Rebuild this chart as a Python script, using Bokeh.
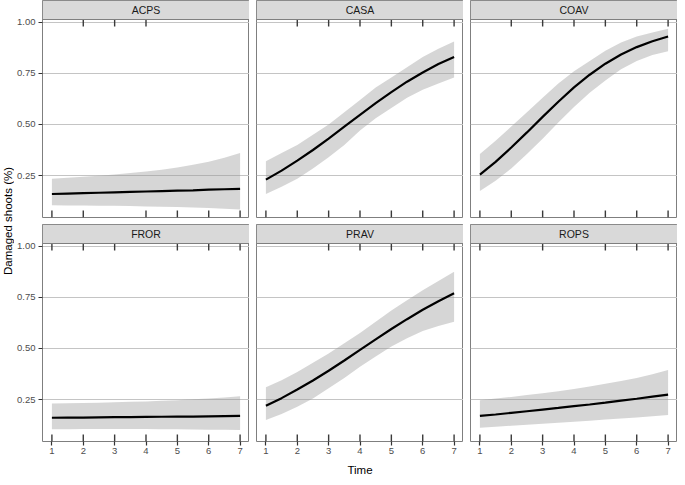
import numpy as np
from bokeh.plotting import figure
from bokeh.layouts import row, column
from bokeh.models import Range1d, FixedTicker, Grid, Label, PrintfTickFormatter
from bokeh.core.properties import value
from bokeh.embed import file_html
from bokeh.resources import INLINE

# ---------------- data ----------------
time = [1.0, 1.5, 2.0, 2.5, 3.0, 3.5, 4.0, 4.5, 5.0, 5.5, 6.0, 6.5, 7.0]
species = ["ACPS", "CASA", "COAV", "FROR", "PRAV", "ROPS"]

acps_fit = [0.160, 0.162, 0.164, 0.166, 0.168, 0.170, 0.172, 0.174, 0.176, 0.178, 0.181, 0.183, 0.185]
acps_hi = [0.235, 0.239, 0.244, 0.249, 0.255, 0.262, 0.270, 0.279, 0.290, 0.303, 0.318, 0.337, 0.360]
acps_lo = [0.105, 0.104, 0.104, 0.103, 0.102, 0.101, 0.099, 0.098, 0.096, 0.094, 0.091, 0.088, 0.084]

casa_fit = [0.230, 0.274, 0.323, 0.375, 0.431, 0.489, 0.547, 0.604, 0.658, 0.709, 0.754, 0.795, 0.830]
casa_hi = [0.320, 0.360, 0.400, 0.450, 0.500, 0.560, 0.620, 0.680, 0.730, 0.780, 0.830, 0.870, 0.905]
casa_lo = [0.160, 0.195, 0.235, 0.285, 0.340, 0.400, 0.470, 0.530, 0.580, 0.630, 0.670, 0.700, 0.730]

coav_fit = [0.255, 0.317, 0.387, 0.461, 0.537, 0.611, 0.681, 0.743, 0.797, 0.842, 0.878, 0.907, 0.930]
coav_hi = [0.355, 0.420, 0.490, 0.560, 0.630, 0.700, 0.760, 0.810, 0.860, 0.900, 0.930, 0.950, 0.968]
coav_lo = [0.175, 0.225, 0.285, 0.355, 0.430, 0.510, 0.585, 0.655, 0.715, 0.770, 0.810, 0.840, 0.858]

fror_fit = [0.161, 0.162, 0.162, 0.163, 0.164, 0.164, 0.165, 0.166, 0.167, 0.167, 0.168, 0.169, 0.170]
fror_hi = [0.231, 0.232, 0.233, 0.235, 0.237, 0.239, 0.241, 0.244, 0.247, 0.251, 0.255, 0.260, 0.266]
fror_lo = [0.105, 0.105, 0.106, 0.106, 0.106, 0.106, 0.106, 0.105, 0.105, 0.104, 0.103, 0.102, 0.101]

prav_fit = [0.220, 0.257, 0.299, 0.343, 0.391, 0.441, 0.493, 0.544, 0.595, 0.643, 0.689, 0.731, 0.770]
prav_hi = [0.310, 0.345, 0.385, 0.430, 0.475, 0.525, 0.575, 0.630, 0.685, 0.735, 0.785, 0.830, 0.875]
prav_lo = [0.150, 0.180, 0.215, 0.255, 0.305, 0.355, 0.410, 0.460, 0.510, 0.550, 0.585, 0.610, 0.630]

rops_fit = [0.170, 0.177, 0.185, 0.193, 0.201, 0.209, 0.218, 0.226, 0.235, 0.245, 0.254, 0.264, 0.274]
rops_hi = [0.247, 0.255, 0.263, 0.272, 0.281, 0.291, 0.302, 0.314, 0.327, 0.341, 0.356, 0.374, 0.395]
rops_lo = [0.112, 0.117, 0.122, 0.127, 0.132, 0.137, 0.142, 0.147, 0.152, 0.157, 0.162, 0.168, 0.175]

# observed times of damaged (1, top rug) and undamaged (0, bottom rug) shoots
acps_rug1 = [2, 3, 4]
acps_rug0 = [1, 2, 4, 5, 6, 7]
casa_rug1 = [2, 3, 4, 5, 6, 7]
casa_rug0 = [1, 2, 3, 4, 5, 6, 7]
coav_rug1 = [2, 3, 4, 5, 6, 7]
coav_rug0 = [1, 2, 3, 4, 5, 6, 7]
fror_rug1 = [1, 2, 3, 5, 6, 7]
fror_rug0 = [1, 2, 3, 4, 5, 6, 7]
prav_rug1 = [3, 4, 5, 6, 7]
prav_rug0 = [1, 2, 3, 4, 5, 6, 7]
rops_rug1 = [1, 3, 5, 6, 7]
rops_rug0 = [1, 2, 3, 4, 5, 6, 7]

x_ticks = [1, 2, 3, 4, 5, 6, 7]
y_ticks = [0.25, 0.50, 0.75, 1.00]

x_label = "Time"
y_label = "Damaged shoots (%)"

# ---------------- styling / layout ----------------
FONT = "Liberation Sans"
XR = (0.7, 7.3)
YR = (0.045, 1.013)
FW = 207
PH = 198
SH = 19
GAP = 7
BOT = 36
LEFT = [26, 7, 7]
BORDER = "#7f7f7f"
GRID = "#c4c4c4"
RUG = 0.035  # rug length as a fraction of the panel height

panels = [
    ("ACPS", acps_fit, acps_lo, acps_hi, acps_rug1, acps_rug0),
    ("CASA", casa_fit, casa_lo, casa_hi, casa_rug1, casa_rug0),
    ("COAV", coav_fit, coav_lo, coav_hi, coav_rug1, coav_rug0),
    ("FROR", fror_fit, fror_lo, fror_hi, fror_rug1, fror_rug0),
    ("PRAV", prav_fit, prav_lo, prav_hi, prav_rug1, prav_rug0),
    ("ROPS", rops_fit, rops_lo, rops_hi, rops_rug1, rops_rug0),
]


def panel(name, fit, lo, hi, rug1, rug0, col, bottom):
    yspan = YR[1] - YR[0]
    ytop = YR[0] + yspan * (PH + SH) / PH
    p = figure(frame_width=FW, frame_height=PH + SH, x_range=Range1d(*XR),
               y_range=Range1d(YR[0], ytop),
               x_axis_location="below" if bottom else None,
               y_axis_location="left" if col == 0 else None,
               toolbar_location=None, output_backend="svg",
               min_border_left=LEFT[col], min_border_right=0, min_border_top=0,
               min_border_bottom=BOT if bottom else GAP,
               outline_line_color=BORDER, background_fill_color="white",
               border_fill_color="white")
    p.extra_y_ranges = {"strip": Range1d(-PH / SH, 1)}
    # grids: horizontal major only
    for g in p.xgrid:
        g.visible = False
    if len(p.ygrid) == 0:
        p.add_layout(Grid(dimension=1, ticker=FixedTicker(ticks=y_ticks)))
    for g in p.ygrid:
        g.ticker = FixedTicker(ticks=y_ticks)
        g.grid_line_color = GRID
        g.grid_line_width = 1
        g.minor_grid_line_color = None
    # axes
    if col == 0:
        ax = p.yaxis[0]
        ax.ticker = FixedTicker(ticks=y_ticks)
        ax.formatter = PrintfTickFormatter(format="%.2f")
        ax.major_label_standoff = 3
    if bottom:
        ax = p.xaxis[0]
        ax.ticker = FixedTicker(ticks=x_ticks)
        ax.major_label_standoff = 2
        if col == 1:
            ax.axis_label = x_label
            ax.axis_label_text_font = FONT
            ax.axis_label_text_font_size = "11.5px"
            ax.axis_label_text_font_style = "normal"
            ax.axis_label_text_color = "black"
            ax.axis_label_standoff = 7
    for ax in list(p.xaxis) + list(p.yaxis):
        ax.major_label_text_font = FONT
        ax.major_label_text_font_size = "9.5px"
        ax.major_label_text_color = "#4d4d4d"
        ax.major_tick_line_color = "#333333"
        ax.major_tick_line_width = 1.2
        ax.major_tick_out = 4
        ax.major_tick_in = 0
        ax.minor_tick_line_color = None
        ax.axis_line_color = None
    # ribbon + fitted line
    p.varea(x=time, y1=lo, y2=hi, fill_color="#999999", fill_alpha=0.4)
    p.line(x=time, y=fit, line_color="black", line_width=2.2)
    # rugs at the panel edges
    y_bot0, y_bot1 = YR[0], YR[0] + RUG * yspan
    y_top0, y_top1 = YR[1], YR[1] - RUG * yspan
    p.segment(x0=rug0, x1=rug0, y0=[y_bot0] * len(rug0), y1=[y_bot1] * len(rug0),
              line_color="#3a3a3a", line_width=1.4)
    p.segment(x0=rug1, x1=rug1, y0=[y_top0] * len(rug1), y1=[y_top1] * len(rug1),
              line_color="#3a3a3a", line_width=1.4)
    # facet strip
    p.quad(left=[XR[0]], right=[XR[1]], bottom=[0], top=[1], y_range_name="strip",
           fill_color="#d9d9d9", line_color=BORDER, line_width=1)
    p.text(x=[(XR[0] + XR[1]) / 2.0], y=[0.5], text=[name], y_range_name="strip",
           text_align="center", text_baseline="middle", text_font=value(FONT),
           text_font_size="10.5px", text_color="#1a1a1a")
    return p


plots = [panel(*pn, col=i % 3, bottom=(i >= 3)) for i, pn in enumerate(panels)]

TOTAL_H = (SH + PH) * 2 + GAP + BOT
area_h = (SH + PH) * 2 + GAP
ylab = figure(frame_width=14, frame_height=TOTAL_H, x_range=Range1d(0, 1),
              y_range=Range1d(0, TOTAL_H), x_axis_location=None, y_axis_location=None,
              toolbar_location=None, output_backend="svg", min_border=0,
              outline_line_color=None, border_fill_color="white")
for g in ylab.grid:
    g.visible = False
ylab.add_layout(Label(x=0.5, y=TOTAL_H - area_h / 2.0, text=y_label,
                      angle=np.pi / 2, text_align="center", text_baseline="middle",
                      text_font=FONT, text_font_size="11.5px", text_color="black"))

grid = column(row(*plots[0:3]), row(*plots[3:6]))
p = row(ylab, grid)

open("out.html", "w").write(file_html(p, INLINE))
